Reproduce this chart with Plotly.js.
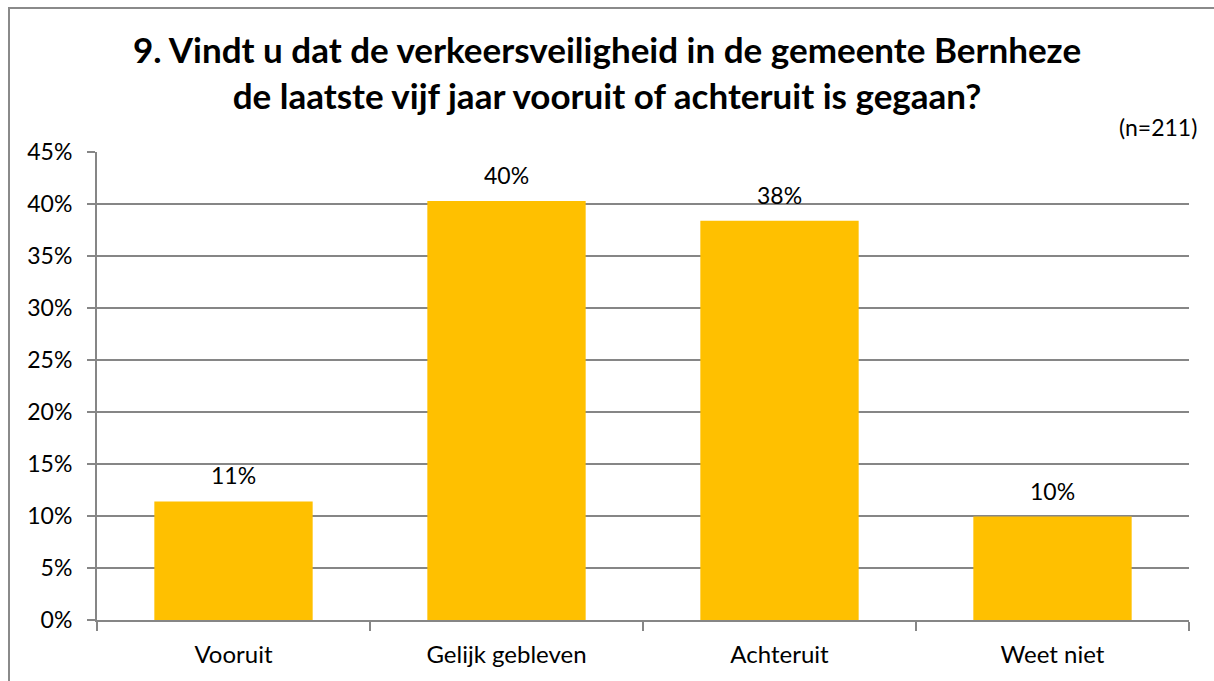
<!DOCTYPE html>
<html>
<head>
<meta charset="utf-8">
<script src="https://cdn.plot.ly/plotly-3.0.1.min.js"></script>
<style>
  html, body { margin: 0; padding: 0; background: #fff; }
  #chart { width: 1214px; height: 681px; position: absolute; left: 0; top: 0; }
  #frame { position: absolute; left: 8px; top: 7px; width: 1300px; height: 800px;
           border-left: 2px solid #8a8a8a; border-top: 2px solid #8a8a8a; pointer-events: none; }
</style>
</head>
<body>
<div id="chart"></div>
<div id="frame"></div>
<script>
const categories = ["Vooruit", "Gelijk gebleven", "Achteruit", "Weet niet"];
const values = [11.4, 40.3, 38.4, 9.95];
const yTicks = [0, 5, 10, 15, 20, 25, 30, 35, 40, 45];
const titleText = "9. Vindt u dat de verkeersveiligheid in de gemeente Bernheze<br>de laatste vijf jaar vooruit of achteruit is gegaan?";
const noteText = "(n=211)";

const FONT = "Lato, 'Open Sans', sans-serif";
const W = 1214, H = 681;
const L = 97, R = 1189, T = 152, B = 620;

const trace = {
  type: "bar",
  x: categories,
  y: values,
  marker: { color: "#FFC000" },
  hoverinfo: "skip"
};

const annotations = categories.map((c, i) => ({
  x: c, y: values[i], xref: "x", yref: "y",
  text: Math.round(values[i]) + "%",
  showarrow: false, yanchor: "bottom", yshift: 10,
  font: { family: FONT, size: 23, color: "#000" }
}));
annotations.push({
  xref: "paper", yref: "paper", x: (1199 - L) / (R - L), y: (B - 127) / (B - T),
  xanchor: "right", yanchor: "middle", text: noteText, showarrow: false,
  font: { family: FONT, size: 23, color: "#000" }
});

const layout = {
  width: W, height: H,
  margin: { l: L, r: W - R, t: T, b: H - B, pad: 0 },
  paper_bgcolor: "#fff", plot_bgcolor: "#fff",
  showlegend: false,
  bargap: 0.42,
  title: {
    text: titleText,
    x: 0.5, xanchor: "center",
    y: 1 - 63 / H, yanchor: "middle",
    font: { family: FONT, size: 35, color: "#000", weight: "bold" }
  },
  xaxis: {
    type: "category",
    showline: true, linecolor: "#868686", linewidth: 2,
    ticks: "outside", tickson: "boundaries", ticklen: 9, tickcolor: "#868686", tickwidth: 2,
    showgrid: false,
    tickfont: { family: FONT, size: 24, color: "#000" },
    ticklabelstandoff: 12
  },
  yaxis: {
    range: [0, 45],
    tickvals: yTicks,
    ticktext: yTicks.map(v => v + "%"),
    showline: true, linecolor: "#868686", linewidth: 2,
    ticks: "outside", ticklen: 8, tickcolor: "#868686", tickwidth: 2,
    showgrid: true, gridcolor: "#868686", gridwidth: 1.5,
    zeroline: false,
    tickfont: { family: FONT, size: 23, color: "#000" },
    ticklabelstandoff: 10
  },
  annotations: annotations
};

Plotly.newPlot("chart", [trace], layout, { displayModeBar: false, staticPlot: true });
</script>
</body>
</html>
